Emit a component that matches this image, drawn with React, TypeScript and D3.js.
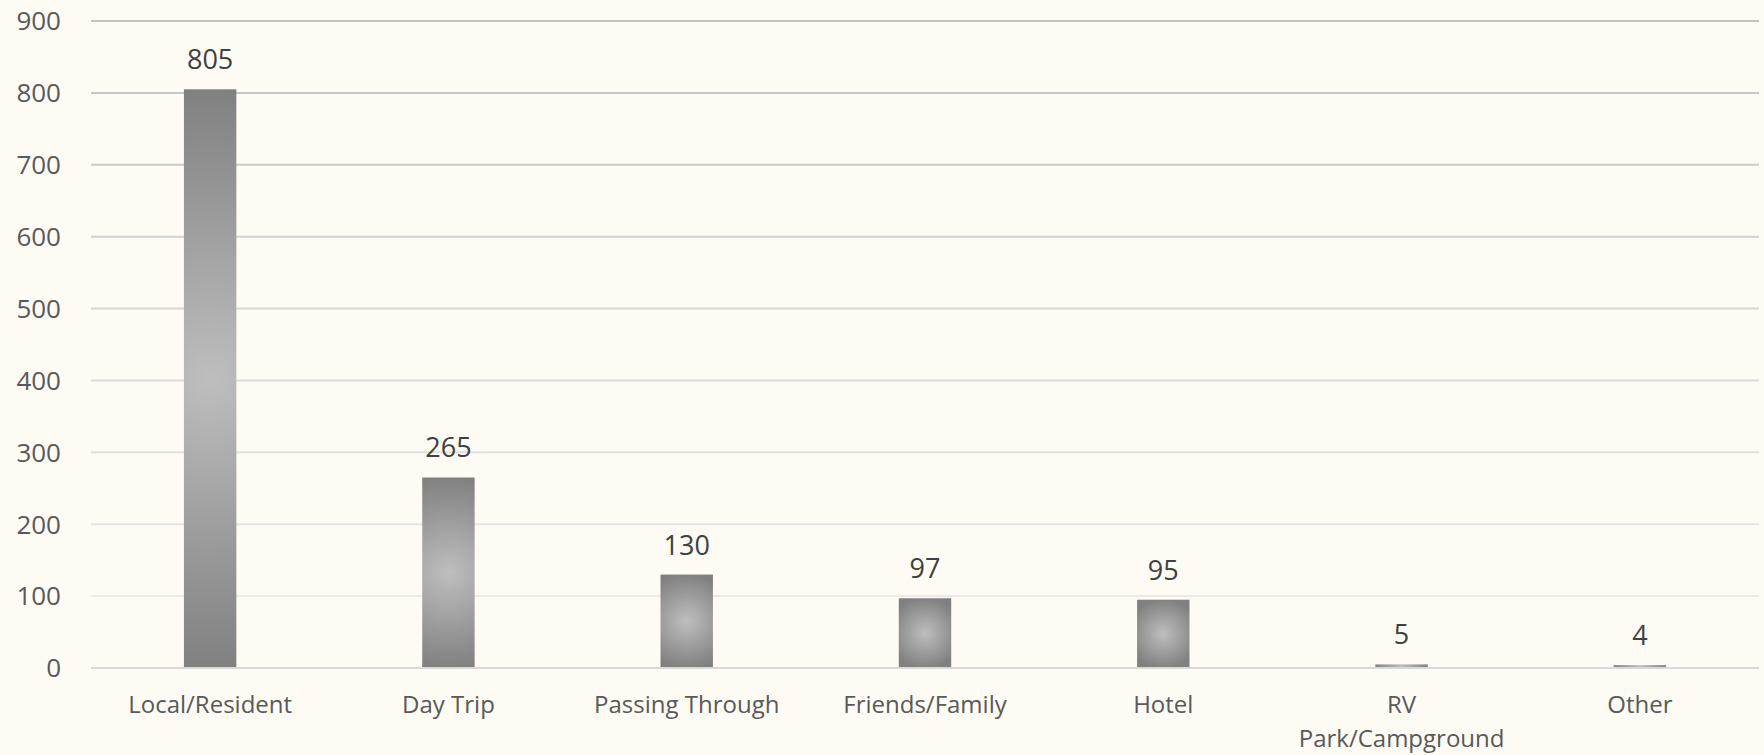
import * as d3 from "d3";

const categories = [
  "Local/Resident",
  "Day Trip",
  "Passing Through",
  "Friends/Family",
  "Hotel",
  "RV Park/Campground",
  "Other",
];
const values = [805, 265, 130, 97, 95, 5, 4];
const yTicks = [0, 100, 200, 300, 400, 500, 600, 700, 800, 900];

// labels that Excel wrapped onto two lines
const wrapped: Record<string, string[]> = {
  "RV Park/Campground": ["RV", "Park/Campground"],
};

const W = 1764,
  H = 755;
const margin = { top: 21, right: 5, bottom: 87, left: 91 };
const FONT = "'Open Sans', sans-serif";

export default function App() {
  const x = d3
    .scaleBand<string>()
    .domain(categories)
    .range([margin.left, W - margin.right])
    .paddingInner(0.78)
    .paddingOuter(0.39);
  const y = d3
    .scaleLinear()
    .domain([0, 900])
    .range([H - margin.bottom, margin.top]);

  const bars = values.map((v, i) => {
    const bx = x(categories[i]) ?? 0;
    const bw = x.bandwidth();
    const by = y(v);
    const bh = y(0) - y(v);
    return { v, i, bx, bw, by, bh };
  });

  return (
    <svg
      width={W}
      height={H}
      style={{ position: "absolute", left: 0, top: 0, background: "#FDFBF4" }}
      fontFamily={FONT}
    >
      <defs>
        {/* circular "from centre" fill, radius follows the longer side */}
        {bars.map((b) => (
          <radialGradient
            key={b.i}
            id={`barFill${b.i}`}
            gradientUnits="userSpaceOnUse"
            cx={b.bx + b.bw / 2}
            cy={b.by + b.bh / 2}
            r={Math.max(b.bw, b.bh) / 2 + 1}
          >
            <stop offset="0" stopColor="#BEBEBE" />
            <stop offset="1" stopColor="#808080" />
          </radialGradient>
        ))}
      </defs>
      <rect width={W} height={H} fill="#FDFBF4" />

      {/* grid */}
      {yTicks
        .filter((t) => t > 0)
        .map((t) => (
          <line
            key={t}
            x1={margin.left}
            x2={W - margin.right}
            y1={y(t)}
            y2={y(t)}
            stroke={d3.interpolateRgb("#EFEFEF", "#C2C2C2")(t / 900)}
            strokeWidth={2}
          />
        ))}

      {/* y tick labels */}
      {yTicks.map((t) => (
        <text
          key={t}
          x={61}
          y={y(t)}
          dy="0.36em"
          textAnchor="end"
          fontSize={26}
          fill="#595959"
        >
          {t}
        </text>
      ))}

      {/* bars */}
      {bars.map((b) => (
        <rect
          key={categories[b.i]}
          x={b.bx}
          y={b.by}
          width={b.bw}
          height={b.bh}
          fill={`url(#barFill${b.i})`}
        />
      ))}

      {/* baseline */}
      <line
        x1={margin.left}
        x2={W - margin.right}
        y1={y(0)}
        y2={y(0)}
        stroke="#D9D9D9"
        strokeWidth={2}
      />

      {/* value labels */}
      {bars.map((b) => (
        <text
          key={categories[b.i]}
          x={b.bx + b.bw / 2}
          y={b.by - 20}
          textAnchor="middle"
          fontSize={27}
          fill="#404040"
        >
          {b.v}
        </text>
      ))}

      {/* category labels */}
      {categories.map((c) => {
        const lines = wrapped[c] ?? [c];
        const cx = (x(c) ?? 0) + x.bandwidth() / 2;
        return (
          <text key={c} textAnchor="middle" fontSize={24} fill="#595959">
            {lines.map((l, j) => (
              <tspan key={j} x={cx} y={y(0) + 45 + j * 34}>
                {l}
              </tspan>
            ))}
          </text>
        );
      })}
    </svg>
  );
}
